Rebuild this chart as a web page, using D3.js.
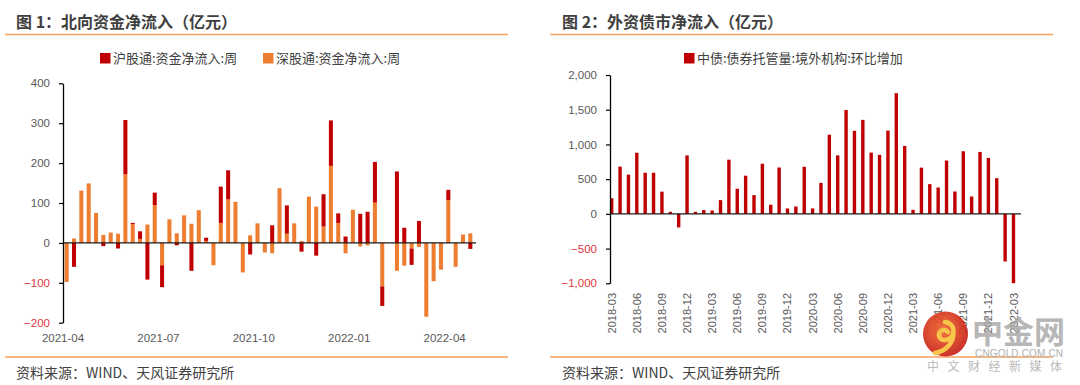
<!DOCTYPE html>
<html><head><meta charset="utf-8">
<script src="https://cdn.jsdelivr.net/npm/d3@7"></script>
<style>
html,body{margin:0;padding:0;background:#fff;}
svg{display:block;}
text{font-family:"Liberation Sans","Noto Sans CJK SC",sans-serif;}
.cjk{font-family:"Noto Sans CJK SC","Liberation Sans",sans-serif;}
</style></head>
<body>
<svg id="c" width="1080" height="385"></svg>
<script>
// ---------- Chart 1 data: weekly northbound flows (亿元) ----------
const weeks = ["2021-04-02","2021-04-09","2021-04-16","2021-04-23","2021-04-30","2021-05-07","2021-05-14","2021-05-21","2021-05-28","2021-06-04","2021-06-11","2021-06-18","2021-06-25","2021-07-02","2021-07-09","2021-07-16","2021-07-23","2021-07-30","2021-08-06","2021-08-13","2021-08-20","2021-08-27","2021-09-03","2021-09-10","2021-09-17","2021-09-24","2021-10-01","2021-10-08","2021-10-15","2021-10-22","2021-10-29","2021-11-05","2021-11-12","2021-11-19","2021-11-26","2021-12-03","2021-12-10","2021-12-17","2021-12-24","2021-12-31","2022-01-07","2022-01-14","2022-01-21","2022-01-28","2022-02-04","2022-02-11","2022-02-18","2022-02-25","2022-03-04","2022-03-11","2022-03-18","2022-03-25","2022-04-01","2022-04-08","2022-04-15","2022-04-22"];
const shValues = [0,-60,0,0,0,-8,0,-14,136,3,19,-92,31,-55,0,-6,0,-70,0,8,0,91,73,0,0,-29,0,0,44,0,71,0,-22,0,-32,81,114,24,16,0,73,78,102,-49,0,179,38,-41,55,0,0,0,26,0,0,-15];
const szValues = [-98,11,131,149,75,20,26,23,172,47,10,46,95,-56,59,24,69,48,82,5,-56,50,109,103,-74,19,49,-24,-26,137,23,49,5,116,91,41,193,50,-26,83,-9,-6,101,-109,0,-70,-57,-14,-10,-185,-96,-67,107,-60,21,24];
const seriesNames1 = ["沪股通:资金净流入:周","深股通:资金净流入:周"];
const yTicks1 = [400,300,200,100,0,-100,-200];
const xTickLabels1 = ["2021-04","2021-07","2021-10","2022-01","2022-04"];
const xTickWeeks1 = ["2021-04-02","2021-07-02","2021-10-01","2021-12-31","2022-04-01"];

// ---------- Chart 2 data: monthly foreign bond holdings change (亿元) ----------
const months = ["2018-03","2018-04","2018-05","2018-06","2018-07","2018-08","2018-09","2018-10","2018-11","2018-12","2019-01","2019-02","2019-03","2019-04","2019-05","2019-06","2019-07","2019-08","2019-09","2019-10","2019-11","2019-12","2020-01","2020-02","2020-03","2020-04","2020-05","2020-06","2020-07","2020-08","2020-09","2020-10","2020-11","2020-12","2021-01","2021-02","2021-03","2021-04","2021-05","2021-06","2021-07","2021-08","2021-09","2021-10","2021-11","2021-12","2022-01","2022-02","2022-03"];
const bondValues = [225,680,565,880,592,592,320,30,-195,842,30,55,48,198,780,362,550,270,722,132,668,78,106,678,78,446,1140,842,1496,1196,1354,882,850,1200,1738,978,58,666,428,380,768,322,902,250,892,806,514,-686,-998];
const seriesName2 = "中债:债券托管量:境外机构:环比增加";
const yTicks2 = [2000,1500,1000,500,0,-500,-1000];
const xTickMonths2 = ["2018-03","2018-06","2018-09","2018-12","2019-03","2019-06","2019-09","2019-12","2020-03","2020-06","2020-09","2020-12","2021-03","2021-06","2021-09","2021-12","2022-03"];

const RED = "#C00000", ORANGE = "#ED7D31", LINE = "#F6A15C";
const LABEL = "#595959", NEG = "#E0353D", TITLE = "#3F3F3F";

const svg = d3.select("#c");

// ---------- Panel frames ----------
function frame(x0, x1, title, tx) {
  svg.append("text").attr("class","cjk").attr("x", tx).attr("y", 28)
    .attr("font-size", 16).attr("font-weight", 700).attr("fill", TITLE).text(title);
  svg.append("line").attr("x1", x0).attr("x2", x1).attr("y1", 34.5).attr("y2", 34.5)
    .attr("stroke", LINE).attr("stroke-width", 1.3);
  svg.append("line").attr("x1", x0).attr("x2", x1).attr("y1", 357).attr("y2", 357)
    .attr("stroke", LINE).attr("stroke-width", 1.3);
  svg.append("text").attr("class","cjk").attr("x", tx).attr("y", 378)
    .attr("font-size", 14).attr("fill", "#404040").text("资料来源：WIND、天风证券研究所");
}
frame(5, 508, "图 1：北向资金净流入（亿元）", 16);
frame(550, 1053, "图 2：外资债市净流入（亿元）", 562);

// ---------- Chart 1 ----------
const x1 = d3.scaleBand().domain(weeks).range([63, 474]).paddingInner(0.45).paddingOuter(0.225);
const y1 = d3.scaleLinear().domain([-200, 400]).range([322.7, 83.3]);

// stacked: orange (深股通) nearest zero, red (沪股通) beyond
const g1 = svg.append("g");
weeks.forEach((w, i) => {
  const sz = szValues[i], sh = shValues[i];
  let pos = 0, neg = 0;
  [[sz, ORANGE], [sh, RED]].forEach(([v, col]) => {
    if (v === 0) return;
    let a, b;
    if (v > 0) { a = pos; b = pos + v; pos = b; } else { a = neg; b = neg + v; neg = b; }
    g1.append("rect").attr("x", x1(w)).attr("width", x1.bandwidth())
      .attr("y", y1(Math.max(a, b))).attr("height", Math.abs(y1(a) - y1(b)))
      .attr("fill", col);
  });
});

const ya1 = svg.append("g").attr("transform", "translate(63,0)")
  .call(d3.axisLeft(y1).tickValues(yTicks1).tickSize(4).tickSizeOuter(0).tickPadding(9));
ya1.select(".domain").attr("stroke", "#000").attr("stroke-width", 1.3);
ya1.selectAll(".tick line").attr("stroke", "#000").attr("stroke-width", 1.2);
ya1.selectAll(".tick text").attr("font-size", 11.5).attr("font-family", "Liberation Sans")
  .attr("fill", d => d < 0 ? NEG : LABEL);

svg.append("line").attr("x1", 63).attr("x2", 476).attr("y1", y1(0)).attr("y2", y1(0))
  .attr("stroke", "#1a1a1a").attr("stroke-width", 1.3);

xTickWeeks1.forEach((w, k) => {
  const xpos = x1(w) - x1.step() * x1.paddingInner() / 2;
  svg.append("text").attr("x", xpos).attr("y", 342).attr("text-anchor", "middle")
    .attr("font-size", 11.5).attr("fill", LABEL).text(xTickLabels1[k]);
});

// legend 1
const lg1 = [[100, RED, seriesNames1[0]], [263, ORANGE, seriesNames1[1]]];
lg1.forEach(([lx, col, name]) => {
  svg.append("rect").attr("x", lx).attr("y", 53).attr("width", 10.5).attr("height", 10.5).attr("fill", col);
  svg.append("text").attr("class","cjk").attr("x", lx + 13).attr("y", 63).attr("font-size", 13)
    .attr("fill", "#404040").text(name);
});

// ---------- Chart 2 ----------
const x2 = d3.scalePoint().domain(months).range([611.7, 1013.5]);
const y2 = d3.scaleLinear().domain([-1000, 2000]).range([283.3, 75]);
const bw2 = 3.4;
svg.append("g").selectAll("rect").data(months).join("rect")
  .attr("x", d => x2(d) - bw2 / 2).attr("width", bw2)
  .attr("y", (d, i) => y2(Math.max(0, bondValues[i])))
  .attr("height", (d, i) => Math.abs(y2(bondValues[i]) - y2(0)))
  .attr("fill", RED);

const ya2 = svg.append("g").attr("transform", "translate(610,0)")
  .call(d3.axisLeft(y2).tickValues(yTicks2).tickSize(4).tickSizeOuter(0).tickPadding(9)
    .tickFormat(d3.format(",")));
ya2.select(".domain").attr("stroke", "#000").attr("stroke-width", 1.3);
ya2.selectAll(".tick line").attr("stroke", "#000").attr("stroke-width", 1.2);
ya2.selectAll(".tick text").attr("font-size", 11.5).attr("font-family", "Liberation Sans")
  .attr("fill", d => d < 0 ? NEG : LABEL);

svg.append("line").attr("x1", 610).attr("x2", 1021).attr("y1", y2(0)).attr("y2", y2(0))
  .attr("stroke", "#1a1a1a").attr("stroke-width", 1.3);

xTickMonths2.forEach(m => {
  svg.append("text").attr("transform", `translate(${x2(m) + 4},293) rotate(-90)`)
    .attr("text-anchor", "end").attr("font-size", 11).attr("fill", LABEL).text(m);
});

svg.append("rect").attr("x", 684).attr("y", 53).attr("width", 10.5).attr("height", 10.5).attr("fill", RED);
svg.append("text").attr("class","cjk").attr("x", 697).attr("y", 63).attr("font-size", 13)
  .attr("fill", "#404040").text(seriesName2);

// ---------- Watermark ----------
const defs = svg.append("defs");
const rg = defs.append("radialGradient").attr("id", "wmg").attr("cx", "45%").attr("cy", "40%").attr("r", "60%");
rg.append("stop").attr("offset", "0%").attr("stop-color", "#F26A2E");
rg.append("stop").attr("offset", "100%").attr("stop-color", "#C8201A");
const wm = svg.append("g").attr("opacity", 0.92);
wm.append("circle").attr("cx", 945.5).attr("cy", 334).attr("r", 22.5).attr("fill", "url(#wmg)");
wm.append("path").attr("d", "M945,322 a9,9 0 1,1 -1,18 a5,5 0 1,1 4,-8 M953,331 c2,10 -6,20 -18,22")
  .attr("fill", "none").attr("stroke", "#F7C23B").attr("stroke-width", 4.5).attr("stroke-linecap", "round");
wm.append("text").attr("class","cjk").attr("x", 972).attr("y", 343).attr("font-size", 31).attr("font-weight", 700)
  .attr("fill", "#a9a9a9").attr("opacity", 0.9).text("中金网");
wm.append("text").attr("x", 975).attr("y", 357).attr("font-size", 10).attr("fill", "#a9a9a9")
  .attr("textLength", 88).text("CNGOLD.COM.CN");
wm.append("text").attr("class","cjk").attr("x", 927).attr("y", 371).attr("font-size", 12).attr("fill", "#b5b5b5")
  .attr("textLength", 135).text("中文财经新媒体");
</script>
</body></html>
